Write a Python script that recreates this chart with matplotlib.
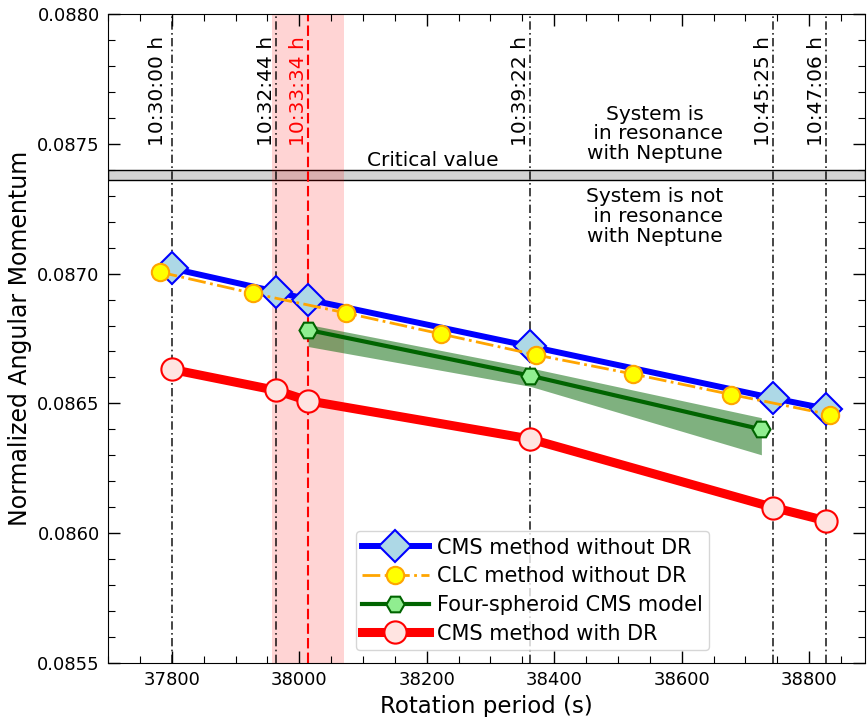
import matplotlib
matplotlib.use('Agg')
import matplotlib.pyplot as plt
from matplotlib.ticker import MultipleLocator, FormatStrFormatter

# CMS method without differential rotation
cms_x = [37800, 37964, 38014, 38362, 38744, 38826]
cms_y = [0.08702, 0.08693, 0.08690, 0.08672, 0.08652, 0.08648]

# CLC method without DR
clc_x = [37781, 37927, 38074, 38223, 38371, 38524, 38678, 38832]
clc_y = [0.087006, 0.086924, 0.086848, 0.086767, 0.086687, 0.086613, 0.086534, 0.086457]

# four-spheroid CMS model + uncertainty band
four_x = [38014, 38362, 38725]
four_y = [0.086783, 0.086607, 0.086400]
four_lo = [0.086719, 0.086566, 0.086302]
four_hi = [0.086804, 0.086637, 0.086445]

# CMS method with DR
dr_x = [37800, 37964, 38014, 38362, 38744, 38826]
dr_y = [0.086631, 0.086550, 0.086510, 0.086363, 0.086099, 0.086048]

# rotation periods marked by vertical lines
periods = [37800, 37964, 38362, 38744, 38826]
period_labels = ['10:30:00 h', '10:32:44 h', '10:39:22 h', '10:45:25 h', '10:47:06 h']
best_period = 38014
best_label = '10:33:34 h'
best_range = (37958, 38070)

crit_lo = 0.08736
crit_hi = 0.08740

fig = plt.figure(figsize=(8.67, 7.17), dpi=100)
ax = fig.add_axes([0.1246, 0.0753, 0.8734, 0.9052])

# critical value band
ax.axhspan(crit_lo, crit_hi, facecolor='lightgray', edgecolor='black', lw=1.0, zorder=1)
ax.text(38210, crit_hi, 'Critical value', ha='center', va='bottom', fontsize=14.5)

# preferred period with its range
ax.axvspan(best_range[0], best_range[1], color='red', alpha=0.17, lw=0, zorder=1.5)
ax.axvline(best_period, color='red', ls=(0, (5, 2)), lw=1.5, zorder=2)
ax.text(best_period, 0.08749, best_label, rotation=90, ha='right', va='bottom',
        color='red', fontsize=14.5)

for i in range(len(periods)):
    ax.axvline(periods[i], color='black', ls=(0, (5, 2, 1, 2)), lw=1.2, alpha=0.85, zorder=2)
    off = 8 if i == 0 else 0
    ax.text(periods[i] - off, 0.08749, period_labels[i], rotation=90, ha='right',
            va='bottom', fontsize=14.5)

ax.text(38558, 0.087538, 'System is\n in resonance\nwith Neptune', ha='center',
        va='center', multialignment='center', fontsize=14.5, linespacing=1.05)
ax.text(38558, 0.087219, 'System is not\n in resonance\nwith Neptune', ha='center',
        va='center', multialignment='center', fontsize=14.5, linespacing=1.05)

# data series
ax.plot(cms_x, cms_y, color='blue', lw=4.3, marker='D', ms=16, mfc='lightblue',
        mec='blue', mew=1.5, label='CMS method without DR', zorder=4)
ax.plot(clc_x, clc_y, color='orange', ls='-.', lw=2, marker='o', ms=12.5, mfc='yellow',
        mec='orange', mew=1.5, label='CLC method without DR', zorder=5)
ax.fill_between(four_x, four_lo, four_hi, color='darkgreen', alpha=0.5, lw=0, zorder=3)
ax.plot(four_x, four_y, color='darkgreen', lw=3, marker='H', ms=13, mfc='lightgreen',
        mec='darkgreen', mew=1.5, label='Four-spheroid CMS model', zorder=4)
ax.plot(dr_x, dr_y, color='red', lw=6.5, marker='o', ms=16, mfc='mistyrose',
        mec='red', mew=1.5, label='CMS method with DR', zorder=4)

ax.set_xlim(37700, 38888)
ax.set_ylim(0.0855, 0.0880)
ax.xaxis.set_major_locator(MultipleLocator(200))
ax.xaxis.set_minor_locator(MultipleLocator(50))
ax.yaxis.set_major_locator(MultipleLocator(0.0005))
ax.yaxis.set_minor_locator(MultipleLocator(0.0001))
ax.yaxis.set_major_formatter(FormatStrFormatter('%.4f'))
ax.tick_params(which='both', direction='in', top=True, right=True, labelsize=13, pad=6)
ax.tick_params(which='major', length=8.5, width=1)
ax.tick_params(which='minor', length=5, width=0.8)

ax.set_xlabel('Rotation period (s)', fontsize=16.5)
ax.set_ylabel('Normalized Angular Momentum', fontsize=17)

ax.legend(loc='lower left', bbox_to_anchor=(0.327, 0.02), borderaxespad=0, fontsize=15,
          handlelength=3.2, handletextpad=0.4, labelspacing=0.42, borderpad=0.3)

fig.savefig('out.png', dpi=100)
